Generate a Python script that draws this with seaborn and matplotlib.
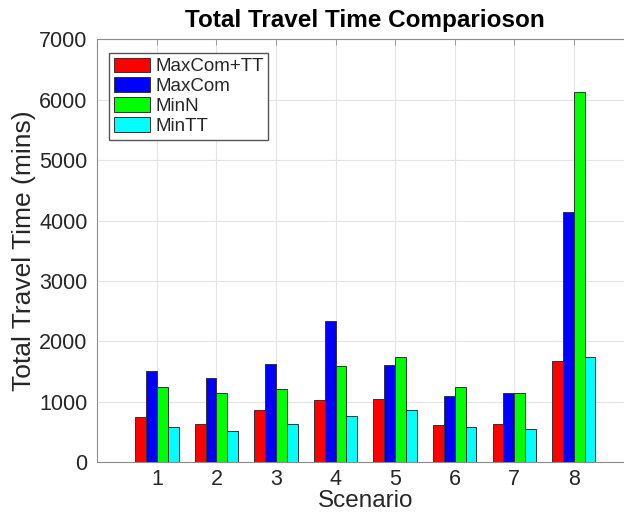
import matplotlib
matplotlib.use("Agg")
import matplotlib.pyplot as plt
import pandas as pd
import seaborn as sns

scenarios = ["1", "2", "3", "4", "5", "6", "7", "8"]
methods = ["MaxCom+TT", "MaxCom", "MinN", "MinTT"]
maxcom_tt = [748, 637, 858, 1028, 1040, 611, 632, 1672]
maxcom = [1507, 1403, 1634, 2337, 1611, 1099, 1155, 4148]
min_n = [1254, 1139, 1221, 1589, 1749, 1254, 1139, 6120]
min_tt = [587, 512, 637, 769, 858, 587, 545, 1743]
colors = ["#ff0000", "#0000ff", "#00ff00", "#00ffff"]


def build_frame() -> pd.DataFrame:
    rows = []
    for name, vals in zip(methods, [maxcom_tt, maxcom, min_n, min_tt]):
        for sc, v in zip(scenarios, vals):
            rows.append({"Scenario": sc, "Method": name, "Time": v})
    return pd.DataFrame(rows)


def main() -> None:
    sns.set_style("white")
    plt.rcParams["font.family"] = ["Liberation Sans", "DejaVu Sans"]

    df = build_frame()
    fig = plt.figure(figsize=(6.24, 5.14), dpi=100)
    ax = fig.add_axes([0.1560, 0.1006, 0.8590, 0.8229])

    sns.barplot(
        data=df,
        x="Scenario",
        y="Time",
        hue="Method",
        order=scenarios,
        hue_order=methods,
        palette=colors,
        width=0.727,
        gap=0,
        saturation=1,
        edgecolor="#333333",
        linewidth=0.7,
        errorbar=None,
        ax=ax,
    )

    ax.set_xlim(-1, 8)
    ax.set_ylim(0, 7000)
    ax.set_yticks(range(0, 7001, 1000))
    ax.set_axisbelow(True)
    ax.grid(True, color="#e4e4e4", linewidth=0.8)

    for sp in ax.spines.values():
        sp.set_visible(True)
        sp.set_color("#8c8c8c")
        sp.set_linewidth(0.8)

    ax.tick_params(axis="both", direction="in", length=4, width=0.6, color="#8c8c8c",
                   labelsize=15.5, labelcolor="#262626", top=True, right=True)
    ax.tick_params(axis="y", pad=7)
    ax.tick_params(axis="x", pad=5)

    ax.set_xlabel("Scenario", fontsize=17.5, color="#262626", labelpad=0)
    ax.set_ylabel("Total Travel Time (mins)", fontsize=19, color="#262626", labelpad=2)
    ax.set_title("Total Travel Time Comparioson", fontsize=17.5, fontweight="bold",
                 color="black", pad=9)

    handles, labels = ax.get_legend_handles_labels()
    ax.legend(
        handles,
        labels,
        loc="upper left",
        bbox_to_anchor=(0.022, 0.968),
        borderaxespad=0,
        fontsize=13.5,
        frameon=True,
        fancybox=False,
        edgecolor="#555555",
        framealpha=1,
        handlelength=1.95,
        handleheight=0.8,
        handletextpad=0.25,
        labelspacing=0.12,
        borderpad=0.25,
    )

    fig.savefig("out.png", dpi=100)
    plt.close(fig)


if __name__ == "__main__":
    main()
